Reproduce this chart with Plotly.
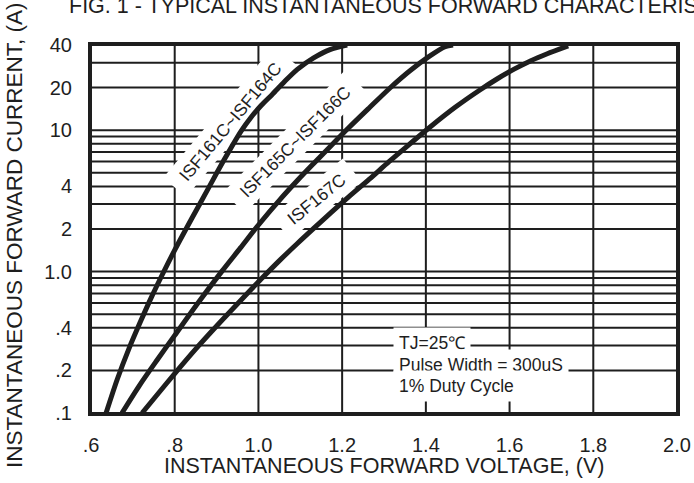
import math
import plotly.graph_objects as go

# ---- data (forward voltage V, forward current A) ----
v_161_164 = [0.636, 0.663, 0.690, 0.718, 0.745, 0.772, 0.799, 0.841, 0.880, 0.918,
             0.959, 0.983, 1.007, 1.033, 1.062, 1.093, 1.131, 1.171, 1.212]
i_161_164 = [0.1, 0.174, 0.282, 0.441, 0.665, 0.973, 1.40, 2.38, 3.86, 6.17,
             9.89, 12.4, 15.0, 17.9, 22.0, 26.9, 32.3, 37.1, 40.0]

v_165_166 = [0.674, 0.716, 0.758, 0.800, 0.856, 0.913, 0.957, 1.002, 1.052, 1.093,
             1.132, 1.174, 1.215, 1.265, 1.315, 1.362, 1.408, 1.446, 1.465]
i_165_166 = [0.1, 0.157, 0.237, 0.354, 0.602, 1.007, 1.47, 2.17, 3.24, 4.40,
             5.81, 7.80, 10.35, 14.4, 19.95, 26.3, 33.2, 38.9, 40.0]

v_167 = [0.722, 0.761, 0.800, 0.851, 0.904, 0.957, 1.007, 1.052, 1.093, 1.132,
         1.174, 1.215, 1.265, 1.312, 1.360, 1.408, 1.470, 1.530, 1.570, 1.612,
         1.651, 1.690, 1.740]
i_167 = [0.1, 0.138, 0.190, 0.285, 0.424, 0.622, 0.888, 1.21, 1.58, 2.02,
         2.62, 3.36, 4.50, 5.98, 7.91, 10.4, 14.5, 19.3, 23.0, 27.1,
         31.0, 34.7, 39.4]

series_names = ["ISF161C~ISF164C", "ISF165C~ISF166C", "ISF167C"]

x_tickvals = [0.6, 0.8, 1.0, 1.2, 1.4, 1.6, 1.8, 2.0]
x_ticktext = [".6", ".8", "1.0", "1.2", "1.4", "1.6", "1.8", "2.0"]

y_gridvals = [0.1, 0.2, 0.3, 0.4, 0.5, 0.6, 0.7, 0.8, 0.9,
              1, 2, 3, 4, 5, 6, 7, 8, 9, 10, 20, 30, 40]
y_labelled = {0.1: ".1", 0.2: ".2", 0.4: ".4", 1: "1.0", 2: "2", 4: "4",
              10: "10", 20: "20", 40: "40"}
y_ticktext = [y_labelled.get(v, "") for v in y_gridvals]

title_text = "FIG. 1 - TYPICAL INSTANTANEOUS FORWARD CHARACTERISTICS"
x_title = "INSTANTANEOUS FORWARD VOLTAGE, (V)"
y_title = "INSTANTANEOUS FORWARD CURRENT, (A)"
cond_lines = ["TJ=25\u2103", "Pulse Width = 300uS", "1% Duty Cycle"]

# ---- layout geometry ----
W, H = 694, 483
ML, MR, MT, MB = 91, 17, 45, 70
PW, PH = W - ML - MR, H - MT - MB
INK = "#1e1e1e"
FONT = "Liberation Sans, Arial, Helvetica, sans-serif"


def px_to_paper(px, py):
    return (px - ML) / PW, (MT + PH - py) / PH


def rot_rect(cx, cy, w, h, ang):
    a = math.radians(ang)
    ux, uy = math.cos(a), -math.sin(a)
    nx, ny = -math.sin(a), -math.cos(a)
    pts = []
    for su, sn in [(-1, -1), (1, -1), (1, 1), (-1, 1)]:
        px = cx + su * w / 2 * ux + sn * h / 2 * nx
        py = cy + su * w / 2 * uy + sn * h / 2 * ny
        pts.append(px_to_paper(px, py))
    return "M " + " L ".join(f"{x:.5f},{y:.5f}" for x, y in pts) + " Z"


def data_to_px(v, i):
    px = ML + (v - 0.6) / 1.4 * PW
    py = MT + PH - (math.log10(i) - math.log10(0.1)) / (math.log10(40) - math.log10(0.1)) * PH
    return px, py


fig = go.Figure()
for vs, cs in [(v_161_164, i_161_164), (v_165_166, i_165_166), (v_167, i_167)]:
    fig.add_trace(go.Scatter(x=vs, y=cs, mode="lines",
                             line=dict(color=INK, width=5, shape="spline", smoothing=0.8),
                             hoverinfo="skip", showlegend=False))

shapes = []
# grid drawn as shapes beneath the curves
for xv in x_tickvals:
    shapes.append(dict(type="line", xref="x", yref="paper", x0=xv, x1=xv, y0=0, y1=1,
                       line=dict(color=INK, width=2), layer="below"))
for yv in y_gridvals:
    shapes.append(dict(type="line", xref="paper", yref="y", x0=0, x1=1, y0=yv, y1=yv,
                       line=dict(color=INK, width=2), layer="below"))

# curve labels: (V, I) centre, angle
label_specs = [
    (0.932, 11.5, 50, series_names[0]),
    (1.087, 8.28, 45, series_names[1]),
    (1.139, 3.26, 39, series_names[2]),
]
annotations = []
for v, i, ang, txt in label_specs:
    cx, cy = data_to_px(v, i)
    w = len(txt) * 10.0 + 22
    shapes.append(dict(type="path", path=rot_rect(cx, cy, w, 30, ang), xref="paper", yref="paper",
                       fillcolor="white", line=dict(width=0), layer="below"))
    annotations.append(dict(x=v, y=math.log10(i), xref="x", yref="y", text=txt, showarrow=False,
                            textangle=-ang, font=dict(family=FONT, size=17.5, color=INK),
                            xanchor="center", yanchor="middle"))

# condition text block
for k, line in enumerate(cond_lines):
    py = 343 + k * 21.5
    annotations.append(dict(x=(393 - ML) / PW, y=(MT + PH - py) / PH, xref="paper", yref="paper",
                            text=line, showarrow=False, xanchor="left", yanchor="middle",
                            bgcolor="white", borderpad=5,
                            font=dict(family=FONT, size=17.5, color=INK)))

# title (cut by the top edge), axis titles
annotations.append(dict(x=(67 - ML) / PW, y=(MT + PH - 6) / PH, xref="paper", yref="paper",
                        text=title_text, showarrow=False, xanchor="left", yanchor="middle",
                        font=dict(family=FONT, size=21.5, color=INK)))
annotations.append(dict(x=(384 - ML) / PW, y=(MT + PH - 466) / PH, xref="paper", yref="paper",
                        text=x_title, showarrow=False, xanchor="center", yanchor="middle",
                        font=dict(family=FONT, size=21.5, color=INK)))
annotations.append(dict(x=(14 - ML) / PW, y=(MT + PH - 236) / PH, xref="paper", yref="paper",
                        text=y_title, showarrow=False, textangle=-90,
                        xanchor="center", yanchor="middle",
                        font=dict(family=FONT, size=22.5, color=INK)))

fig.update_layout(
    width=W, height=H, margin=dict(l=ML, r=MR, t=MT, b=MB, autoexpand=False),
    paper_bgcolor="white", plot_bgcolor="white",
    shapes=shapes, annotations=annotations, showlegend=False,
    font=dict(family=FONT, color=INK),
)
fig.update_xaxes(range=[0.6, 2.0], tickmode="array", tickvals=x_tickvals, ticktext=x_ticktext,
                 showgrid=False, zeroline=False, automargin=False,
                 showline=True, mirror=True, linecolor=INK, linewidth=3,
                 ticks="", ticklabelstandoff=12, tickfont=dict(family=FONT, size=20, color=INK))
fig.update_yaxes(type="log", range=[math.log10(0.1), math.log10(40)], tickmode="array",
                 tickvals=y_gridvals, ticktext=y_ticktext,
                 showgrid=False, zeroline=False, automargin=False,
                 showline=True, mirror=True, linecolor=INK, linewidth=3,
                 ticks="", ticklabelstandoff=12, tickfont=dict(family=FONT, size=20, color=INK))

fig.write_html("out.html", config={"displayModeBar": False, "staticPlot": True},
               post_script="document.body.style.margin='0';document.body.style.padding='0';"
                           "document.documentElement.style.overflow='hidden';")
